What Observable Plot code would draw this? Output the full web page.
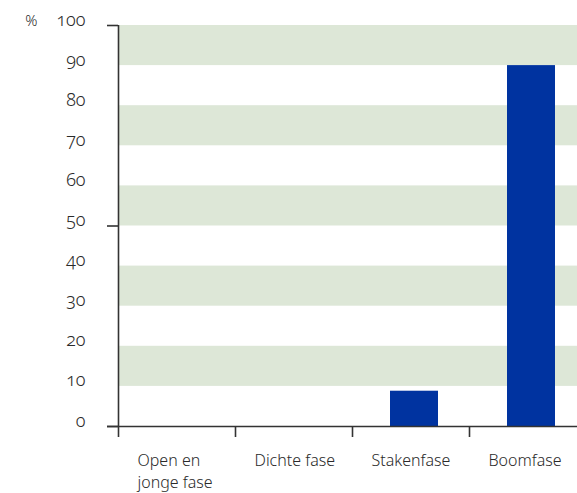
<!DOCTYPE html>
<html>
<head>
<meta charset="utf-8">
<script src="https://cdn.jsdelivr.net/npm/d3@7"></script>
<script src="https://cdn.jsdelivr.net/npm/@observablehq/plot@0.6"></script>
<style>
  html, body { margin: 0; padding: 0; background: #fff; overflow: hidden; }
  svg { font-family: "Noto Sans", "Open Sans", sans-serif; font-variant-numeric: oldstyle-nums; font-feature-settings: "onum" 1; }
</style>
</head>
<body>
<div id="chart"></div>
<script>
const categories = ["Open en\njonge fase", "Dichte fase", "Stakenfase", "Boomfase"];
const values = [0, 0, 8.8, 90];
const yTicks = [0, 10, 20, 30, 40, 50, 60, 70, 80, 90, 100];
const yTickMarks = [0, 50, 100];
const bands = [[10, 20], [30, 40], [50, 60], [70, 80], [90, 100]];

const data = categories.map((c, i) => ({cat: c, i, v: values[i]}));
const ink = "#333";
const txt = "#2a2a2a";

const chart = Plot.plot({
  width: 577,
  height: 493,
  marginLeft: 118,
  marginRight: 0,
  marginTop: 25,
  marginBottom: 67,
  x: {domain: [0, 4], range: [118, 586], label: null},
  y: {domain: [0, 100], label: null},
  style: {background: "#fff", color: ink},
  marks: [
    Plot.rectY(bands, {y1: d => d[0], y2: d => d[1], fill: "#dde7d7"}),
    Plot.rectY(data, {x1: d => d.i, x2: d => d.i + 1, y: "v", fill: "#0033a0", insetLeft: 38, insetRight: 31}),
    Plot.ruleX([0], {y1: 0, y2: 100, stroke: ink, strokeWidth: 1.6}),
    Plot.ruleY([0], {stroke: ink, strokeWidth: 1.6, insetLeft: -11}),
    Plot.axisY({ticks: yTickMarks, tickSize: 11, tickFormat: () => "", stroke: ink, strokeWidth: 1.6, label: null}),
    Plot.axisY({ticks: yTicks, tickSize: 0, tickPadding: 33, fontSize: 18, fontWeight: 300, lineAnchor: "bottom", fill: txt, label: null}),
    Plot.axisX({ticks: [0, 1, 2, 3], tickSize: 11, tickFormat: () => "", stroke: ink, strokeWidth: 1.6, label: null}),
    Plot.text(data, {x: "i", y: 0, text: "cat", dx: 19, dy: 24, textAnchor: "start", lineAnchor: "top", fontSize: 16, fontWeight: 300, lineHeight: 1.36, fill: txt}),
    Plot.text(["%"], {x: 0, y: 100, text: d => d, dx: -81, textAnchor: "end", lineAnchor: "bottom", fontSize: 15, fontWeight: 300, fill: txt})
  ]
});
document.getElementById("chart").appendChild(chart);
</script>
</body>
</html>
